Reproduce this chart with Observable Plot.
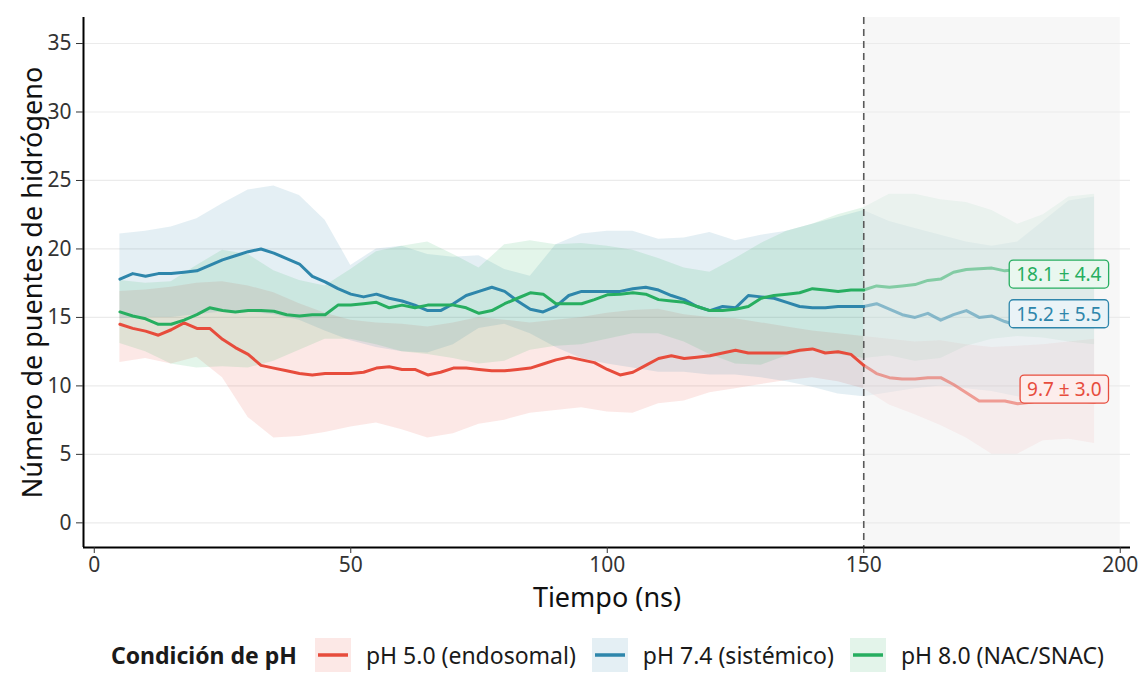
<!DOCTYPE html>
<html>
<head>
<meta charset="utf-8">
<script src="https://cdn.jsdelivr.net/npm/d3@7"></script>
<script src="https://cdn.jsdelivr.net/npm/@observablehq/plot@0.6"></script>
<style>
  html, body { margin: 0; padding: 0; background: #fff; }
  body { font-family: "Noto Sans", sans-serif; width: 1141px; }
  #legend { height: 66px; display: flex; align-items: center; justify-content: center;
            padding-left: 74px; box-sizing: border-box; width: 1141px; font-size: 23px; color: #1a1a1a; }
  #legend .title { font-weight: bold; margin-right: 18px; }
  #legend .item { display: flex; align-items: center; margin-right: 16px; }
  #legend .item:last-child { margin-right: 0; }
  #legend svg { margin-right: 15px; }
</style>
</head>
<body>
<div id="chart"></div>
<div id="legend"></div>
<script>
// ---- categories ----
const series = ["pH 5.0 (endosomal)", "pH 7.4 (sistémico)", "pH 8.0 (NAC/SNAC)"];
const colors = ["#E74C3C", "#2E86AB", "#27AE60"];
const legendTitle = "Condición de pH";
const xTitle = "Tiempo (ns)";
const yTitle = "Número de puentes de hidrógeno";
const xTicks = [0, 50, 100, 150, 200];
const yTicks = [0, 5, 10, 15, 20, 25, 30, 35];
const cutoff = 150;
const shadeEnd = 200;

// ---- mean lines (ns) ----
const lineTime = [5, 7.5, 10, 12.5, 15, 17.5, 20, 22.5, 25, 27.5, 30, 32.5, 35, 37.5, 40, 42.5, 45, 47.5, 50, 52.5,
  55, 57.5, 60, 62.5, 65, 67.5, 70, 72.5, 75, 77.5, 80, 82.5, 85, 87.5, 90, 92.5, 95, 97.5, 100, 102.5,
  105, 107.5, 110, 112.5, 115, 117.5, 120, 122.5, 125, 127.5, 130, 132.5, 135, 137.5, 140, 142.5, 145, 147.5, 150, 152.5,
  155, 157.5, 160, 162.5, 165, 167.5, 170, 172.5, 175, 177.5, 180, 182.5, 185, 187.5, 190, 192.5, 195];
const lineRed = [14.5, 14.2, 14.0, 13.7, 14.1, 14.6, 14.2, 14.2, 13.4, 12.8, 12.3, 11.5, 11.3, 11.1, 10.9, 10.8, 10.9, 10.9, 10.9, 11.0,
  11.3, 11.4, 11.2, 11.2, 10.8, 11.0, 11.3, 11.3, 11.2, 11.1, 11.1, 11.2, 11.3, 11.6, 11.9, 12.1, 11.9, 11.7, 11.2, 10.8,
  11.0, 11.5, 12.0, 12.2, 12.0, 12.1, 12.2, 12.4, 12.6, 12.4, 12.4, 12.4, 12.4, 12.6, 12.7, 12.4, 12.5, 12.3, 11.5, 10.9,
  10.6, 10.5, 10.5, 10.6, 10.6, 10.1, 9.5, 8.9, 8.9, 8.9, 8.7, 8.8, 9.0, 9.0, 8.9, 8.9, 8.8];
const lineBlue = [17.8, 18.2, 18.0, 18.2, 18.2, 18.3, 18.4, 18.8, 19.2, 19.5, 19.8, 20.0, 19.7, 19.3, 18.9, 18.0, 17.6, 17.1, 16.7, 16.5,
  16.7, 16.4, 16.2, 15.9, 15.5, 15.5, 16.0, 16.6, 16.9, 17.2, 16.9, 16.2, 15.6, 15.4, 15.8, 16.6, 16.9, 16.9, 16.9, 16.9,
  17.1, 17.2, 17.0, 16.6, 16.3, 15.8, 15.5, 15.8, 15.7, 16.6, 16.5, 16.4, 16.1, 15.8, 15.7, 15.7, 15.8, 15.8, 15.8, 16.0,
  15.6, 15.2, 15.0, 15.3, 14.8, 15.2, 15.5, 15.0, 15.1, 14.7, 14.4, 14.5, 14.8, 15.0, 14.9, 15.0, 15.1];
const lineGreen = [15.4, 15.1, 14.9, 14.5, 14.5, 14.8, 15.2, 15.7, 15.5, 15.4, 15.5, 15.5, 15.45, 15.2, 15.1, 15.2, 15.2, 15.9, 15.9, 16.0,
  16.1, 15.7, 15.9, 15.7, 15.9, 15.9, 15.9, 15.7, 15.3, 15.5, 16.0, 16.4, 16.8, 16.7, 16.0, 16.0, 16.0, 16.3, 16.65, 16.7,
  16.8, 16.7, 16.3, 16.2, 16.1, 15.8, 15.5, 15.5, 15.6, 15.8, 16.4, 16.6, 16.7, 16.8, 17.1, 17.0, 16.9, 17.0, 17.0, 17.3,
  17.2, 17.3, 17.4, 17.7, 17.8, 18.3, 18.5, 18.55, 18.6, 18.4, 18.5, 18.7, 18.8, 18.9, 18.9, 19.0, 19.0];

// ---- ribbons (mean ± sd) ----
const bandTime = [5, 10, 15, 20, 25, 30, 35, 40, 45, 50, 55, 60, 65, 70, 75, 80, 85, 90, 95, 100,
  105, 110, 115, 120, 125, 130, 135, 140, 145, 150, 155, 160, 165, 170, 175, 180, 185, 190, 195];
const redUpper = [16.9, 17.0, 17.2, 17.5, 17.6, 17.3, 16.8, 16.0, 15.3, 14.8, 14.6, 14.5, 14.3, 14.6, 15.0, 14.8, 14.6, 14.8, 15.0, 15.3,
  15.5, 15.6, 15.2, 15.0, 14.9, 14.6, 14.3, 14.0, 13.8, 13.6, 13.4, 13.2, 13.3, 13.0, 12.8, 12.9, 13.0, 13.2, 13.4];
const redLower = [11.7, 12.0, 11.6, 12.1, 10.6, 7.7, 6.2, 6.3, 6.6, 7.0, 7.3, 6.8, 6.2, 6.5, 7.2, 7.5, 8.0, 8.2, 8.4, 8.1,
  8.0, 8.7, 8.9, 9.5, 9.8, 10.1, 10.4, 10.6, 10.3, 9.8, 8.6, 7.9, 7.1, 6.2, 5.0, 5.0, 6.0, 6.1, 5.8];
const blueUpper = [21.1, 21.3, 21.6, 22.2, 23.3, 24.3, 24.6, 23.9, 22.1, 18.8, 20.0, 20.2, 19.6, 19.4, 19.5, 18.5, 18.0, 20.3, 21.1, 21.3,
  21.3, 20.7, 20.8, 21.2, 20.6, 21.0, 21.3, 21.8, 22.3, 22.8, 22.0, 21.5, 21.0, 20.5, 20.2, 20.5, 22.0, 23.5, 23.8];
const blueLower = [14.9, 15.0, 15.0, 15.2, 15.4, 15.4, 15.2, 14.8, 14.0, 13.3, 12.8, 12.5, 12.4, 13.0, 14.2, 14.5, 13.8, 12.8, 12.0, 11.6,
  11.3, 11.0, 11.0, 10.8, 10.8, 10.6, 10.3, 9.9, 9.4, 9.2, 9.5, 9.8, 10.0, 9.8, 9.6, 9.2, 9.0, 9.3, 9.6];
const greenUpper = [17.7, 17.5, 17.6, 18.8, 19.9, 19.6, 18.4, 17.7, 17.3, 18.5, 19.8, 20.2, 20.5, 19.6, 18.6, 20.3, 20.6, 20.3, 20.4, 20.2,
  19.9, 19.3, 18.6, 18.3, 19.3, 20.4, 21.3, 21.8, 22.5, 23.0, 24.0, 24.0, 23.6, 23.4, 22.8, 21.8, 22.5, 23.8, 24.0];
const greenLower = [13.1, 12.5, 11.6, 11.3, 11.4, 11.3, 11.8, 12.6, 13.4, 13.4, 13.0, 12.5, 12.3, 12.0, 11.6, 11.8, 12.6, 12.9, 13.0, 13.4,
  13.8, 13.8, 13.2, 12.3, 11.6, 11.5, 12.2, 12.6, 12.3, 12.0, 12.2, 11.8, 12.0, 12.9, 13.4, 13.6, 13.5, 13.2, 13.0];

// ---- end-of-run summary (last 45 ns) ----
const labelMean = [9.7, 15.2, 18.1];
const labelSd = [3.0, 5.5, 4.4];

// ---- build tables ----
const lines = [lineRed, lineBlue, lineGreen];
const uppers = [redUpper, blueUpper, greenUpper];
const lowers = [redLower, blueLower, greenLower];
const lineRows = [], bandRows = [];
series.forEach((s, i) => {
  lineTime.forEach((t, j) => {
    if (t <= cutoff) lineRows.push({t, v: lines[i][j], series: s, seg: "pre"});
    if (t >= cutoff) lineRows.push({t, v: lines[i][j], series: s, seg: "post"});
  });
  bandTime.forEach((t, j) => {
    if (t <= cutoff) bandRows.push({t, lo: lowers[i][j], hi: uppers[i][j], series: s, seg: "pre"});
    if (t >= cutoff) bandRows.push({t, lo: lowers[i][j], hi: uppers[i][j], series: s, seg: "post"});
  });
});
const labelRows = series.map((s, i) => ({series: s, m: labelMean[i], text: `${labelMean[i].toFixed(1)} ± ${labelSd[i].toFixed(1)}`}));
const pre = d => d.seg === "pre", post = d => d.seg === "post";

const xDomain = [-2.1, 202];
const yDomain = [-1.8, 36.9];

const svg = Plot.plot({
  width: 1141, height: 622,
  marginLeft: 83, marginRight: 11, marginTop: 17, marginBottom: 75,
  x: {domain: xDomain},
  y: {domain: yDomain},
  color: {domain: series, range: colors},
  style: {fontFamily: "Noto Sans", fontSize: "21px", color: "#333", background: "white", overflow: "visible"},
  marks: [
    Plot.rect([{a: cutoff, b: shadeEnd}], {x1: "a", x2: "b", fill: "#f7f7f7"}),
    Plot.ruleY(yTicks, {stroke: "#ebebeb", strokeWidth: 1.2}),
    Plot.areaY(bandRows.filter(pre), {x: "t", y1: "lo", y2: "hi", z: "series", fill: "series", fillOpacity: 0.13}),
    Plot.areaY(bandRows.filter(post), {x: "t", y1: "lo", y2: "hi", z: "series", fill: "series", fillOpacity: 0.06}),
    Plot.ruleX([cutoff], {stroke: "#5a5a5a", strokeWidth: 1.6, strokeDasharray: "7,5"}),
    Plot.line(lineRows.filter(pre), {x: "t", y: "v", z: "series", stroke: "series", strokeWidth: 3}),
    Plot.line(lineRows.filter(post), {x: "t", y: "v", z: "series", stroke: "series", strokeWidth: 3, strokeOpacity: 0.5}),
    Plot.text(labelRows, {y: "m", text: "text", fill: "series", frameAnchor: "right", dx: -29, textAnchor: "end",
      fontSize: 19, className: "endlabel"}),
    Plot.ruleY([yDomain[0]], {stroke: "#000", strokeWidth: 2}),
    Plot.ruleX([xDomain[0]], {stroke: "#000", strokeWidth: 2}),
    Plot.axisX({ticks: xTicks, tickSize: 6, tickPadding: 4, label: null, stroke: "#333", fill: "#333"}),
    Plot.axisY({ticks: yTicks, tickSize: 7, tickPadding: 5, label: null, stroke: "#333", fill: "#333"}),
    Plot.text([xTitle], {frameAnchor: "bottom", dy: 51, lineAnchor: "middle", textAnchor: "middle", fontSize: 27, fill: "#111"}),
    Plot.text([yTitle], {frameAnchor: "left", rotate: -90, dx: -50, textAnchor: "middle", lineAnchor: "middle", fontSize: 27, fill: "#111"})
  ]
});
document.getElementById("chart").append(svg);

// label boxes
svg.querySelectorAll("g.endlabel text").forEach(t => {
  const b = t.getBBox();
  const c = t.getAttribute("fill");
  const r = document.createElementNS("http://www.w3.org/2000/svg", "rect");
  r.setAttribute("x", b.x - 7);
  r.setAttribute("y", b.y - 1);
  r.setAttribute("width", b.width + 14);
  r.setAttribute("height", b.height + 2);
  r.setAttribute("rx", 4);
  r.setAttribute("fill", d3.interpolateRgb("#ffffff", c)(0.1));
  r.setAttribute("stroke", c);
  r.setAttribute("stroke-width", 1.3);
  if (t.getAttribute("transform")) r.setAttribute("transform", t.getAttribute("transform"));
  t.parentNode.insertBefore(r, t);
});

// legend
const leg = document.getElementById("legend");
const title = document.createElement("span");
title.className = "title";
title.textContent = legendTitle;
leg.append(title);
series.forEach((s, i) => {
  const item = document.createElement("span");
  item.className = "item";
  const fillC = d3.interpolateRgb("#ffffff", colors[i])(0.13);
  item.innerHTML = `<svg width="36" height="34"><rect width="36" height="34" fill="${fillC}"></rect>` +
    `<line x1="3" x2="33" y1="17" y2="17" stroke="${colors[i]}" stroke-width="3.5"></line></svg>`;
  const label = document.createElement("span");
  label.textContent = s;
  item.append(label);
  leg.append(item);
});
</script>
</body>
</html>
